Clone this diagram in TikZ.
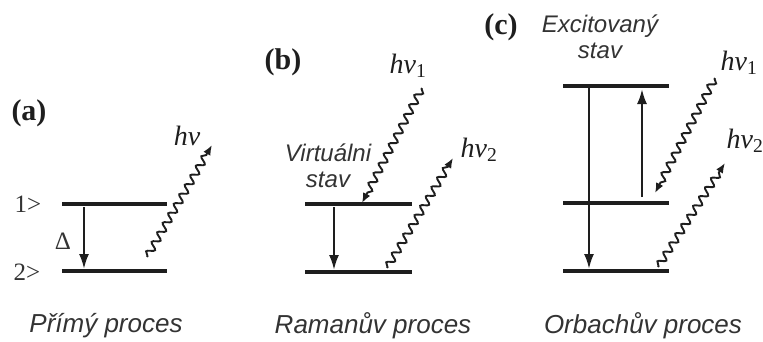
\documentclass[tikz,border=0pt]{standalone}
\usepackage{fontspec}
\setmainfont{Liberation Serif}
\newfontfamily\capfont{Liberation Sans}
\usetikzlibrary{arrows.meta,decorations.pathmorphing}
\definecolor{ink}{HTML}{1E1E1E}
\definecolor{soft}{HTML}{333333}
\tikzset{
  % ---- energy levels and transitions -----------------------------
  level/.style   = {draw=ink, line width=3.2pt},
  trans/.style   = {draw=ink, line width=2.3pt,
                    -{Latex[length=15pt,width=10pt]}},
  photon/.style  = {draw=ink, line width=1.9pt, decorate,
                    decoration={snake, amplitude=3.6pt, segment length=11pt,
                                pre length=1pt, post length=8pt},
                    -{Latex[length=10pt,width=8pt]}},
  % ---- labels ----------------------------------------------------
  tag/.style     = {font=\fontsize{30}{32}\selectfont\bfseries, text=ink,
                    inner sep=0pt},
  ket/.style     = {font=\fontsize{25}{27}\selectfont, text=soft, inner sep=0pt},
  freq/.style    = {font=\fontsize{28}{30}\selectfont\itshape, text=ink,
                    inner sep=0pt},
  note/.style    = {font=\capfont\fontsize{24}{27}\selectfont\itshape,
                    text=soft, inner sep=0pt, align=center},
  caption/.style = {font=\capfont\fontsize{26}{28}\selectfont\itshape,
                    text=soft, inner sep=0pt},
}
\begin{document}
\begin{tikzpicture}[x=1pt,y=-1pt]
  \useasboundingbox (0,0) rectangle (763,341);
  % ---- (a) direct process ----
  \node[tag] (la) at (29,113) {(a)};
  \coordinate (a1L) at (62,204);  \coordinate (a1R) at (167,204);
  \coordinate (a2L) at (62,271);  \coordinate (a2R) at (167,271);
  \draw[level] (a1L) -- (a1R);
  \draw[level] (a2L) -- (a2R);
  \node[ket] (k1) at (28,204) {1>};
  \node[ket] (k2) at (27,272) {2>};
  \coordinate (aT) at (84,207);  \coordinate (aB) at (84,269);
  \draw[trans] (aT) -- (aB);
  \node[ket] (dl) at (63,241) {Δ};
  \coordinate (aP0) at (147,257); \coordinate (aP1) at (212,145);
  \draw[photon] (aP0) -- (aP1);
  \node[freq] (hva) at (187,136) {hν};
  \node[caption] (ca) at (106,326) {Přímý proces};
  % ---- (b) Raman process ----
  \node[tag] (lb) at (283,62) {(b)};
  \coordinate (b1L) at (305,204); \coordinate (b1R) at (412,204);
  \coordinate (b2L) at (305,272); \coordinate (b2R) at (412,272);
  \draw[level] (b1L) -- (b1R);
  \draw[level] (b2L) -- (b2R);
  \coordinate (bT) at (334,207);  \coordinate (bB) at (334,270);
  \draw[trans] (bT) -- (bB);
  \coordinate (bP0) at (422,88);  \coordinate (bP1) at (362,203);
  \draw[photon] (bP0) -- (bP1);
  \coordinate (bQ0) at (387,268); \coordinate (bQ1) at (453,158);
  \draw[photon] (bQ0) -- (bQ1);
  \node[freq] (hvb1) at (408,66) {hν\textsubscript{\upshape 1}};
  \node[freq] (hvb2) at (479,150) {hν\textsubscript{\upshape 2}};
  \node[note] (virt) at (328,166) {Virtuálni\\[-1pt]stav};
  \node[caption] (cb) at (373,326) {Ramanův proces};
  % ---- (c) Orbach process ----
  \node[tag] (lc) at (501,27) {(c)};
  \coordinate (c0L) at (563,86);  \coordinate (c0R) at (669,86);
  \coordinate (c1L) at (563,203); \coordinate (c1R) at (669,203);
  \coordinate (c2L) at (563,271); \coordinate (c2R) at (669,271);
  \draw[level] (c0L) -- (c0R);
  \draw[level] (c1L) -- (c1R);
  \draw[level] (c2L) -- (c2R);
  \coordinate (cT) at (589,88);   \coordinate (cB) at (589,269);
  \draw[trans] (cT) -- (cB);
  \coordinate (cU0) at (642,197); \coordinate (cU1) at (642,89);
  \draw[trans] (cU0) -- (cU1);
  \coordinate (cP0) at (715,78);  \coordinate (cP1) at (655,193);
  \draw[photon] (cP0) -- (cP1);
  \coordinate (cQ0) at (658,267); \coordinate (cQ1) at (725,163);
  \draw[photon] (cQ0) -- (cQ1);
  \node[freq] (hvc1) at (739,63) {hν\textsubscript{\upshape 1}};
  \node[freq] (hvc2) at (745,141) {hν\textsubscript{\upshape 2}};
  \node[note] (exc) at (600,37) {Excitovaný\\[-1pt]stav};
  \node[caption] (cc) at (643,326) {Orbachův proces};
\end{tikzpicture}
\end{document}
